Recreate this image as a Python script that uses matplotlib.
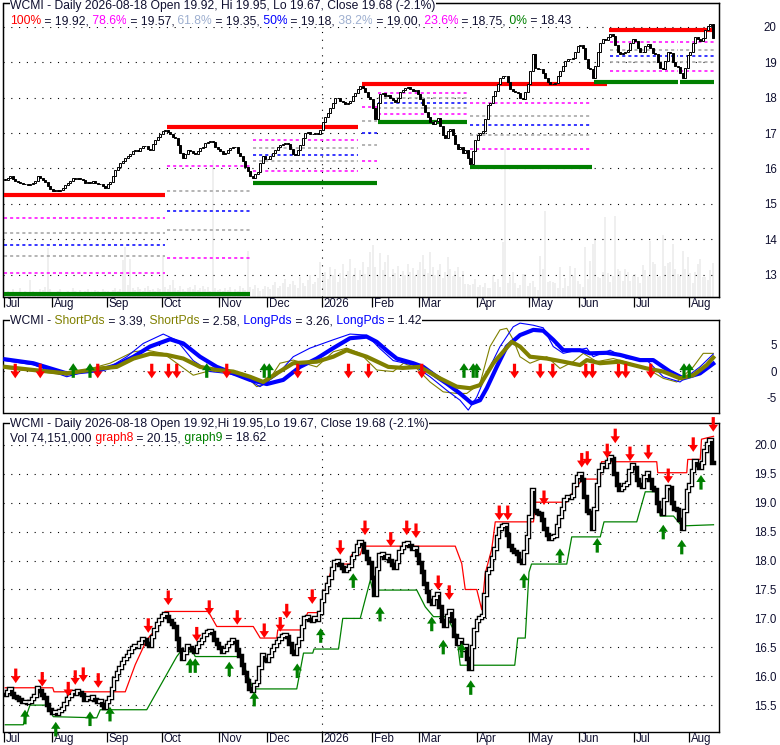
import matplotlib
matplotlib.use("Agg")
import matplotlib.pyplot as plt
import numpy as np
from matplotlib.collections import LineCollection

plt.rcParams["font.family"] = ["Liberation Sans", "DejaVu Sans"]

# months on the axis and the number of trading days drawn in each
month_labels = ["Jul", "Aug", "Sep", "Oct", "Nov", "Dec", "2026", "Feb",
                "Mar", "Apr", "May", "Jun", "Jul", "Aug"]
month_days = [19, 22, 22, 23, 19, 22, 20, 19, 23, 21, 20, 22, 22, 10]

# daily closes
close_jul25 = [15.68, 15.72, 15.78, 15.70, 15.64, 15.62, 15.58, 15.55, 15.56, 15.53,
               15.55, 15.60, 15.66, 15.80, 15.74, 15.68, 15.62, 15.50, 15.42]
close_aug25 = [15.36, 15.38, 15.35, 15.40, 15.44, 15.52, 15.60, 15.66, 15.72, 15.70, 15.74,
               15.71, 15.68, 15.58, 15.62, 15.60, 15.64, 15.58, 15.56, 15.57, 15.50, 15.45]
close_sep25 = [15.55, 15.62, 15.78, 15.95, 16.05, 16.15, 16.22, 16.30, 16.35, 16.42, 16.48,
               16.52, 16.50, 16.58, 16.64, 16.63, 16.55, 16.52, 16.68, 16.80, 16.90, 16.98]
close_oct25 = [17.05, 17.08, 17.02, 16.96, 16.90, 16.85, 16.65, 16.45, 16.30, 16.40, 16.52, 16.48,
               16.45, 16.42, 16.50, 16.58, 16.62, 16.72, 16.76, 16.78, 16.74, 16.62, 16.55]
close_nov25 = [16.48, 16.42, 16.45, 16.52, 16.58, 16.62, 16.60, 16.45, 16.35, 16.20,
               16.05, 15.92, 15.78, 15.74, 15.85, 15.90, 16.15, 16.36, 16.28]
close_dec25 = [16.26, 16.35, 16.45, 16.52, 16.60, 16.65, 16.70, 16.72, 16.68, 16.55, 16.42,
               16.38, 16.52, 16.65, 16.85, 17.00, 17.02, 16.98, 16.96, 17.00, 16.98, 17.10]
close_jan26 = [17.30, 17.45, 17.58, 17.70, 17.85, 17.98, 18.00, 17.92, 17.88, 17.82,
               17.86, 17.90, 18.05, 18.12, 18.25, 18.33, 18.28, 18.15, 18.02, 17.95]
close_feb26 = [17.70, 17.40, 17.85, 18.10, 18.12, 18.05, 18.08, 18.00, 17.93, 17.88,
               17.98, 18.15, 18.22, 18.28, 18.30, 18.25, 18.20, 18.22, 18.10]
close_mar26 = [17.95, 17.80, 17.60, 17.45, 17.30, 17.25, 17.35, 17.42, 17.20, 16.95, 16.86, 17.05,
               17.12, 16.95, 16.70, 16.55, 16.62, 16.45, 16.52, 16.30, 16.12, 16.50, 16.80]
close_apr26 = [16.95, 17.00, 17.05, 17.40, 17.78, 17.85, 18.05, 18.20, 18.40, 18.55, 18.60,
               18.62, 18.45, 18.25, 18.18, 18.15, 18.12, 18.00, 17.95, 18.15, 18.40]
close_may26 = [18.75, 19.22, 18.85, 18.82, 18.80, 18.70, 18.55, 18.45, 18.38, 18.40,
               18.42, 18.60, 18.75, 18.90, 19.05, 19.10, 19.08, 19.12, 19.30, 19.45]
close_jun26 = [19.50, 19.40, 19.10, 18.85, 18.82, 18.55, 18.90, 19.30, 19.55, 19.65, 19.62,
               19.70, 19.80, 19.75, 19.50, 19.30, 19.22, 19.25, 19.30, 19.35, 19.55, 19.65]
close_jul26 = [19.60, 19.40, 19.30, 19.28, 19.45, 19.52, 19.40, 19.25, 19.22, 19.00, 18.85,
               18.80, 19.05, 19.28, 19.25, 19.00, 18.90, 18.88, 18.70, 18.55, 18.85, 19.20]
close_aug26 = [19.30, 19.55, 19.72, 19.65, 19.60, 19.68, 19.90, 20.02, 20.08, 19.68]

# daily volume, millions
vol_jul25 = [9, 13, 11, 17, 7, 11, 20, 9, 13, 11, 37, 13, 9, 11, 17, 15, 22, 107, 17]
vol_aug25 = [11, 9, 13, 17, 11, 7, 13, 9, 20, 13, 11, 15, 9, 13, 17, 11, 9, 15, 13, 11, 17, 13]
vol_sep25 = [13, 11, 15, 20, 13, 17, 81, 109, 26, 83, 20, 15, 22, 17, 13, 20, 24, 15, 17, 13, 20, 17]
vol_oct25 = [92, 22, 17, 26, 37, 20, 15, 24, 17, 13, 20, 22, 17, 26, 15, 20, 24, 17, 22, 13, 299, 20, 15]
vol_nov25 = [17, 13, 20, 15, 22, 11, 17, 13, 24, 20, 15, 100, 22, 17, 26, 20, 13, 17, 24]
vol_dec25 = [22, 17, 26, 33, 20, 24, 31, 39, 22, 28, 35, 26, 20, 44, 31, 24, 37, 48, 28, 33, 41, 76]
vol_jan26 = [44, 55, 39, 65, 48, 61, 33, 52, 72, 41, 57, 83, 46, 63, 37, 59, 76, 50, 65, 98]
vol_feb26 = [113, 65, 48, 96, 59, 76, 92, 44, 61, 52, 68, 41, 57, 48, 72, 55, 63, 46, 59]
vol_mar26 = [76, 92, 61, 52, 98, 65, 48, 59, 72, 41, 55, 87, 61, 46, 57, 65, 44, 57, 28, 28, 26, 28, 39]
vol_apr26 = [22, 26, 22, 31, 20, 20, 48, 33, 39, 22, 120, 323, 31, 44, 55, 31, 20, 26, 50, 50, 24]
vol_may26 = [31, 35, 22, 15, 89, 61, 187, 33, 35, 33, 31, 20, 65, 20, 41, 24, 68, 46, 63, 35]
vol_jun26 = [28, 22, 109, 39, 78, 116, 129, 44, 41, 55, 174, 52, 33, 46, 177, 61, 57, 35, 61, 55, 35, 46]
vol_jul26 = [50, 44, 31, 70, 59, 46, 122, 76, 72, 44, 46, 135, 68, 74, 76, 116, 61, 50, 46, 100, 61, 87]
vol_aug26 = [52, 31, 55, 72, 83, 44, 44, 37, 59, 74.151]

# fibonacci retracement swings (day index ranges, high, low)
fib_start = [-0.5, 64.7, 99.1, 142.7, 149.1, 185.9, 241.9, 269.9]
fib_end = [63.9, 97.9, 141.1, 148.7, 184.7, 234.7, 269.1, 283.3]
fib_high = [15.25, 17.17, 17.17, 18.40, 18.40, 18.40, 19.92, 19.92]
fib_low = [12.45, 12.45, 15.60, 15.60, 17.30, 16.03, 18.45, 18.43]
fib_ratios = [0.764, 0.618, 0.5, 0.382, 0.214]
fib_colors = ["#ff00ff", "#a0a0a0", "#0000ff", "#a0a0a0", "#ff00ff"]

top_start = [-0.5, 64.7, 142.7, 241.5]
top_end = [63.9, 141.1, 240.7, 283.3]
top_level = [15.25, 17.17, 18.40, 19.92]
bot_start = [-0.5, 99.1, 149.1, 185.9, 235.5, 269.9]
bot_end = [97.9, 148.7, 184.7, 234.7, 269.1, 283.3]
bot_level = [12.45, 15.60, 17.30, 16.03, 18.45, 18.43]

# oscillator panel (day, value)
long_thick_d = [0, 11.2, 24.6, 37.9, 44.6, 51.3, 57.9, 65.9, 71.2, 77.9, 84.6, 91.2, 97.9, 104.6,
                111.2, 117.9, 124.6, 131.2, 137.9, 144.6, 148.6, 153.2, 156.6, 163.2, 167.2,
                172.6, 176.6, 181.9, 186.6, 189.9, 192.6, 196.6, 200.6, 205.9, 211.2, 215.2,
                219.2, 223.2, 229.9, 233.9, 240.6, 245.9, 253.9, 259.2, 265.9, 271.2, 277.9, 283.2]
long_thick_v = [2.25, 1.5, -0.45, 0.2, 1.15, 2.75, 4.7, 6.1, 5.3, 2.75, 0.8, -0.45, -1.7, -2.5,
                -1.7, 0.8, 2.4, 4.4, 6.3, 6.6, 5.6, 3.7, 2.4, 1.5, 0.8,
                -1.1, -2.4, -4.3, -6.2, -5.6, -3.3, 0.8, 4.7, 6.9, 7.9, 7.75,
                6.0, 4.0, 4.0, 3.4, 3.5, 3.1, 2.1, 2.1, -0.1, -1.4, -0.45, 1.42]
short_thick_d = [0, 11.2, 24.6, 37.9, 44.6, 51.3, 57.9, 64.6, 71.2, 77.9, 84.6, 91.2, 97.9, 103.2,
                 108.6, 115.2, 124.6, 131.2, 136.6, 144.6, 153.2, 159.0, 165.9, 173.9, 180.6,
                 185.9, 189.9, 195.2, 202.6, 205.9, 209.9, 216.6, 223.2, 229.9, 232.6, 237.9,
                 245.9, 251.2, 256.6, 263.2, 269.9, 275.2, 280.6, 283.2]
short_thick_v = [0.8, 0.2, -0.45, 0.5, 0.8, 2.4, 3.3, 3.1, 2.4, 0.8, 0.2, -0.1, -1.1, -2.1,
                 -0.45, 1.5, 1.8, 2.75, 4.0, 2.75, 0.8, 0.6, 0.8, -1.4, -3.0,
                 -3.3, -2.7, 1.5, 5.6, 4.7, 2.75, 2.4, 1.8, 1.15, 2.1, 1.5,
                 1.8, 1.15, 0.5, -0.1, -1.4, -0.8, 1.15, 2.58]
long_thin_d = [0, 11.2, 24.6, 34.4, 41.9, 48.6, 55.2, 63.2, 68.6, 75.2, 81.9, 88.6, 95.2, 101.9,
               108.6, 115.2, 121.9, 131.2, 137.9, 144.6, 149.9, 155.2, 163.2, 169.9, 176.6,
               181.9, 185.2, 188.6, 192.6, 197.9, 203.2, 205.9, 211.2, 215.2, 219.2, 223.2,
               232.6, 235.2, 241.9, 248.6, 256.6, 263.2, 269.9, 277.9, 283.2]
long_thin_v = [2.0, 1.2, -1.1, 0.2, 0.8, 2.75, 5.3, 7.1, 5.9, 2.0, -0.1, -0.45, -1.1, -3.0,
               -0.8, 2.75, 4.4, 6.0, 7.1, 6.9, 4.3, 2.0, 1.15, -1.1, -3.7,
               -5.6, -7.5, -5.0, -0.45, 4.7, 8.5, 9.2, 8.8, 8.3, 4.7, 3.4,
               4.4, 2.75, 4.0, 2.4, 2.1, -1.1, -2.1, 0.8, 3.26]
short_thin_d = [0, 5.9, 13.9, 24.6, 34.4, 41.9, 51.3, 56.6, 63.2, 68.6, 75.2, 80.6, 88.6, 95.2,
                100.6, 104.6, 109.9, 115.2, 124.6, 131.2, 136.6, 141.9, 148.6, 155.2, 159.3,
                164.6, 169.9, 175.2, 180.6, 184.6, 189.9, 193.9, 197.9, 200.6, 203.2, 205.9,
                209.9, 216.6, 221.9, 227.2, 231.2, 236.6, 243.2, 249.9, 256.6, 263.2, 268.6,
                275.2, 279.2, 283.2]
short_thin_v = [0.5, 0.2, -0.1, -0.8, 0.5, 1.5, 3.7, 4.0, 3.4, 1.5, -0.8, -0.1, 0.2, -0.45,
                -3.0, -2.4, 1.5, 2.1, 0.8, 3.7, 4.4, 3.4, 0.2, -0.1, 1.5,
                0.5, -2.1, -4.0, -4.3, -4.3, -2.4, 4.7, 7.9, 8.2, 6.0, 2.75,
                1.5, 2.75, 0.5, 1.8, 3.4, 1.8, 2.4, 1.5, 0.5, -1.4, -2.1,
                0.8, 3.4, 3.39]
osc_sell_d = [4.0, 14.0, 37.0, 58.6, 65.3, 68.6, 88.6, 117.0, 137.3, 145.3, 166.6, 203.7,
              214.0, 219.0, 232.2, 234.9, 245.3, 248.2, 258.2]
osc_buy_d = [27.2, 33.9, 80.6, 103.6, 105.6, 183.5, 187.2, 188.6, 271.5, 273.6]

# lower panel: graph8 / graph9 vertices (day, price) and signal arrows
res_d = [0, 19, 19.5, 48, 52, 56.6, 60, 63.9, 81.2, 84.6, 99.2, 102, 108.6, 109, 119.2, 120,
         121, 125.9, 128, 131.2, 138, 138.5, 142, 143, 180, 182.6, 184, 188.6, 190.6, 192,
         194.6, 196, 211.3, 212, 224.6, 228, 231, 238, 238.5, 260.6, 261, 272.6, 273, 278,
         278.5, 283.3]
res_v = [15.80, 15.80, 15.73, 15.73, 16.2, 16.63, 16.8, 17.12, 17.12, 16.86, 16.86, 16.66,
         16.66, 16.8, 16.8, 17.0, 17.1, 17.1, 17.5, 17.94, 17.94, 18.1, 18.1, 18.25, 18.25,
         17.95, 17.5, 17.5, 17.15, 17.78, 18.2, 18.67, 18.67, 19.01, 19.01, 19.25, 19.41,
         19.41, 19.71, 19.71, 19.52, 19.52, 19.75, 19.75, 20.1, 20.15]
sup_d = [0, 7.2, 9.9, 16.6, 19.2, 36.6, 38, 56.6, 68.6, 70, 75, 76, 94, 99.2, 116.6, 119.3,
         123, 123.5, 133.3, 135, 142, 146, 147, 164.6, 168, 171.3, 176.6, 180.6, 182, 203.8,
         205, 208, 209.5, 210.5, 224.6, 226.6, 238, 239.5, 252.6, 256, 260.6, 262, 267.3,
         270.6, 283.3]
sup_v = [15.16, 15.16, 15.5, 15.5, 15.3, 15.28, 15.42, 15.42, 16.34, 16.42, 16.42, 16.34,
         16.34, 15.78, 15.78, 16.4, 16.4, 16.47, 16.47, 17.0, 17.0, 17.66, 17.49, 17.49,
         17.2, 17.03, 17.03, 16.7, 16.19, 16.19, 16.66, 16.66, 17.8, 17.94, 17.94, 18.41,
         18.41, 18.67, 18.67, 19.19, 19.19, 18.77, 18.77, 18.6, 18.62]
sell_d = [4.2, 14.8, 25.2, 28.0, 31.2, 37.2, 57.2, 65.2, 76.6, 81.6, 92.8, 103.6, 110, 112.6,
          122.8, 134, 143.9, 154.2, 160.6, 164.3, 173.2, 177.6, 197.6, 201, 215.5, 230.6,
          232.8, 240.8, 244, 249.9, 257.2, 265.2, 275.2, 283.2]
sell_p = [15.88, 15.82, 15.65, 15.85, 15.9, 15.8, 16.75, 17.23, 16.6, 17.06, 16.89, 16.66,
          16.77, 17.0, 17.25, 18.1, 18.44, 18.24, 18.44, 18.39, 17.49, 17.32, 18.7, 18.7,
          18.96, 19.61, 19.64, 19.77, 20.03, 19.72, 19.75, 19.34, 19.88, 20.23]
buy_d = [7.9, 20.2, 33.9, 41.9, 74, 76, 89.6, 99.6, 116.8, 126.2, 139.2, 149.9, 170.6, 175.2,
         182.6, 186.2, 207.5, 221.9, 236.8, 263.2, 270.6, 278.3]
buy_p = [15.42, 15.21, 15.39, 15.47, 16.31, 16.31, 16.25, 15.73, 16.22, 16.83, 17.78, 17.2,
         17.03, 16.63, 16.57, 15.93, 17.78, 18.21, 18.39, 18.62, 18.36, 19.48]

close_months = [close_jul25, close_aug25, close_sep25, close_oct25, close_nov25, close_dec25,
                close_jan26, close_feb26, close_mar26, close_apr26, close_may26, close_jun26,
                close_jul26, close_aug26]
vol_months = [vol_jul25, vol_aug25, vol_sep25, vol_oct25, vol_nov25, vol_dec25, vol_jan26,
              vol_feb26, vol_mar26, vol_apr26, vol_may26, vol_jun26, vol_jul26, vol_aug26]

closes = np.array(sum(close_months, []))
volume = np.array(sum(vol_months, []))
n = len(closes)
days = np.arange(n)
month_pos = np.r_[0, np.cumsum(month_days)[:-1]] - 0.5
jan_pos = month_pos[month_labels.index("2026")]

W, H = 780, 745
DARK = "#101030"
RED, GREEN, BLUE, MAGENTA, OLIVE, PALE = "#ff0000", "#008000", "#0000ff", "#ff00ff", "#808000", "#9fb0d0"
DOT = (0, (1, 6))
FS = 8.3
TFS = 8.75

fig = plt.figure(figsize=(W / 100, H / 100), dpi=100)


def panel(top, bottom):
    return fig.add_axes([3.5 / W, 1 - bottom / H, 715.5 / W, (bottom - top) / H])


ax1 = panel(3.5, 297)
ax2 = panel(320, 412.7)
ax3 = panel(423.3, 731.7)

# volume behind the price bars
ax1v = ax1.twinx()
ax1v.bar(days, volume, width=0.7, color="#efefef", linewidth=0)
ax1v.set_ylim(0, 640)
ax1v.set_yticks([])
ax1.set_zorder(ax1v.get_zorder() + 1)
ax1.patch.set_visible(False)

# candles
opens = np.r_[closes[0], closes[:-1]]
up = closes >= opens
body_lo = np.minimum(opens, closes)
body_h = np.maximum(np.abs(closes - opens), 0.015)
ax1.bar(days[up], body_h[up], bottom=body_lo[up], width=0.9, facecolor="white",
        edgecolor="black", linewidth=0.7, zorder=4)
ax1.bar(days[~up], body_h[~up], bottom=body_lo[~up], width=0.9, facecolor="black",
        edgecolor="black", linewidth=0.7, zorder=4)

# fibonacci levels
for s, e, hi, lo in zip(fib_start, fib_end, fib_high, fib_low):
    for r, col in zip(fib_ratios, fib_colors):
        lvl = lo + r * (hi - lo)
        ax1.plot([s, e], [lvl, lvl], color=col, linestyle=(0, (2, 2)), linewidth=1.1, zorder=2)
for s, e, v in zip(top_start, top_end, top_level):
    ax1.plot([s, e], [v, v], color=RED, linewidth=3, solid_capstyle="butt", zorder=3)
for s, e, v in zip(bot_start, bot_end, bot_level):
    ax1.plot([s, e], [v, v], color=GREEN, linewidth=3, solid_capstyle="butt", zorder=3)

ax1.set_ylim(12.37, 20.66)
ax1.set_yticks(range(13, 21), [str(v) for v in range(13, 21)], ha="right")
ax1.grid(axis="y", color="black", linestyle=DOT, linewidth=0.8)
ax1.axvline(jan_pos, color="black", linestyle=DOT, linewidth=0.8, zorder=1)

# oscillator panel
ax2.plot(short_thin_d, short_thin_v, color=OLIVE, linewidth=0.8, zorder=3)
ax2.plot(long_thin_d, long_thin_v, color=BLUE, linewidth=0.8, zorder=3)
ax2.plot(long_thick_d, long_thick_v, color=BLUE, linewidth=3, zorder=4)
ax2.plot(short_thick_d, short_thick_v, color=OLIVE, linewidth=3, zorder=4)
ax2.set_ylim(-8.0, 9.8)
ax2.set_yticks([-5, 0, 5], ["-5", "0", "5"], ha="right")
ax2.grid(axis="y", color="black", linestyle=DOT, linewidth=0.8)


def arrow(ax, x, y, color, down):
    ax.annotate("", xy=(x, y), xytext=(0, 10.5 if down else -10.5), textcoords="offset points",
                arrowprops=dict(facecolor=color, edgecolor=color, width=2.3, headwidth=6.8,
                                headlength=5, shrink=0, linewidth=0), zorder=6)


for d in osc_sell_d:
    arrow(ax2, d, -1.4, RED, True)
for d in osc_buy_d:
    arrow(ax2, d, 1.5, GREEN, False)

# lower panel: close as a stepped band
step_x = np.repeat(np.arange(n + 1) - 0.5, 2)[1:-1]
step_y = np.repeat(closes, 2)
ax3.plot(step_x, step_y, color="black", linewidth=3.2, solid_joinstyle="miter", zorder=3)
rise = [[(i - 0.5, closes[i - 1]), (i - 0.5, closes[i]), (i + 0.5, closes[i])]
        for i in range(1, n) if closes[i] >= closes[i - 1]]
ax3.add_collection(LineCollection(rise, colors="white", linewidths=1.25, capstyle="projecting",
                                  joinstyle="miter", zorder=4))
ax3.plot(res_d, res_v, color=RED, linewidth=0.9, zorder=2)
ax3.plot(sup_d, sup_v, color=GREEN, linewidth=0.9, zorder=2)
for d, p in zip(sell_d, sell_p):
    arrow(ax3, d, p, RED, True)
for d, p in zip(buy_d, buy_p):
    arrow(ax3, d, p, GREEN, False)

ax3.set_ylim(15.04, 20.375)
ticks3 = np.arange(15.5, 20.01, 0.5)
ax3.set_yticks(ticks3, [f"{v:.1f}" for v in ticks3], ha="right")
ax3.grid(axis="y", color="black", linestyle=DOT, linewidth=0.8)
ax3.axvline(jan_pos, color="black", linestyle=DOT, linewidth=0.8, zorder=1)

for ax in (ax1, ax2, ax3):
    ax.set_xlim(-0.7, 285.5)
    ax.set_axisbelow(True)
    ax.yaxis.tick_right()
    ax.tick_params(axis="y", length=0, pad=41.5, labelsize=FS, labelcolor=DARK,
                   labelright=True, labelleft=False)
    for sp in ax.spines.values():
        sp.set_linewidth(1.0)

ax2.set_xticks([])
for ax in (ax1, ax3):
    ax.set_xticks(month_pos)
    ax.tick_params(axis="x", length=7, width=0.9, labelbottom=False)
    for pos, lab in zip(month_pos, month_labels):
        ax.annotate(lab, xy=(pos, 0), xycoords=("data", "axes fraction"), xytext=(1.5, -1),
                    textcoords="offset points", ha="left", va="top", fontsize=FS,
                    color=DARK, annotation_clip=False)

# titles with coloured pieces
renderer = fig.canvas.get_renderer()


def title_line(x_px, y_px, parts):
    x = x_px
    for s, c in parts:
        t = fig.text(x / W, 1 - y_px / H, s, color=c, fontsize=TFS, ha="left", va="center",
                     bbox=dict(facecolor="white", edgecolor="none", pad=0.3), zorder=10)
        x += t.get_window_extent(renderer).width


title_line(10, 6, [("WCMI - Daily 2026-08-18 Open 19.92, Hi 19.95, Lo 19.67, Close 19.68 (-2.1%)", DARK)])
title_line(10, 21, [("100%", RED), (" = 19.92,", DARK), (" 78.6%", MAGENTA), (" = 19.57,", DARK),
                    (" 61.8%", PALE), (" = 19.35,", DARK), (" 50%", BLUE), (" = 19.18,", DARK),
                    (" 38.2%", PALE), (" = 19.00,", DARK), (" 23.6%", MAGENTA), (" = 18.75,", DARK),
                    (" 0%", GREEN), (" = 18.43", DARK)])
title_line(10, 321, [("WCMI -", DARK), (" ShortPds", OLIVE), (" = 3.39,", DARK), (" ShortPds", OLIVE),
                     (" = 2.58,", DARK), (" LongPds", BLUE), (" = 3.26,", DARK), (" LongPds", BLUE),
                     (" = 1.42", DARK)])
title_line(10, 424.5, [("WCMI - Daily 2026-08-18 Open 19.92,Hi 19.95,Lo 19.67, Close 19.68 (-2.1%)", DARK)])
title_line(10, 438.5, [("Vol 74,151,000", DARK), (" graph8", RED), (" = 20.15,", DARK),
                       (" graph9", GREEN), (" = 18.62", DARK)])

fig.savefig("out.png", dpi=100)
